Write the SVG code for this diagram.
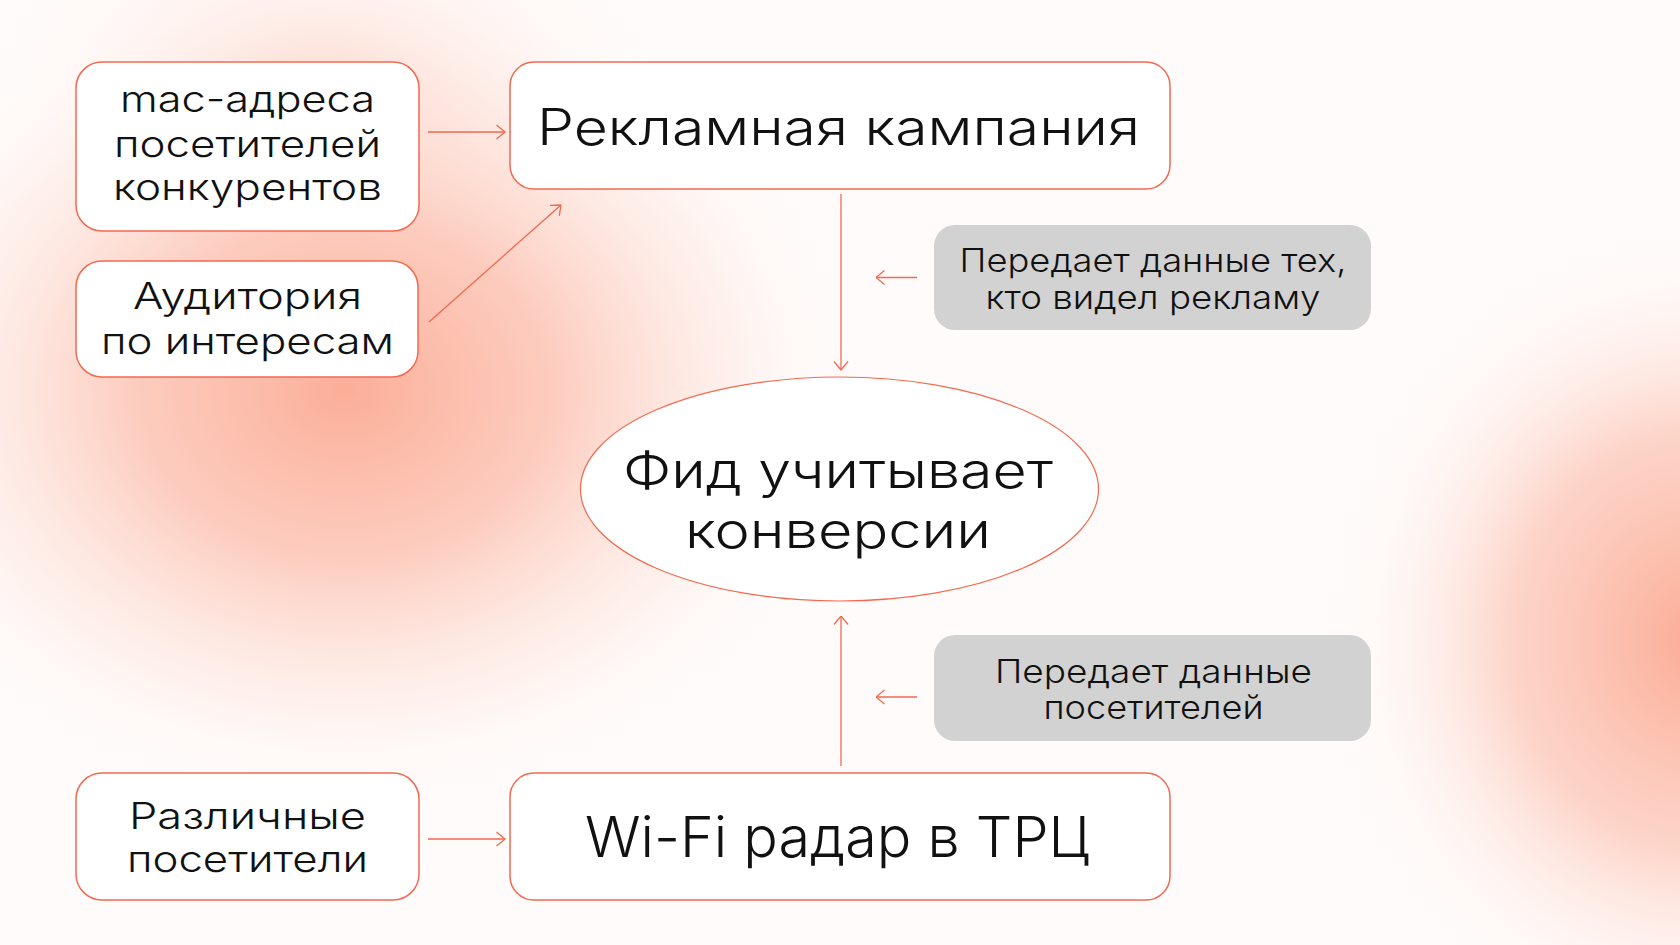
<svg xmlns="http://www.w3.org/2000/svg" width="1680" height="945" viewBox="0 0 1680 945">
<defs>
<radialGradient id="gL" cx="0.5" cy="0.5" r="0.5">
<stop offset="0" stop-color="#fbae98" stop-opacity="1"/>
<stop offset="0.4" stop-color="#fcc0af" stop-opacity="0.8"/>
<stop offset="0.75" stop-color="#fde1d8" stop-opacity="0.4"/>
<stop offset="1" stop-color="#ffffff" stop-opacity="0"/>
</radialGradient>
<radialGradient id="gR" cx="0.5" cy="0.5" r="0.5">
<stop offset="0" stop-color="#fbab94" stop-opacity="1"/>
<stop offset="0.5" stop-color="#fcc4b4" stop-opacity="0.7"/>
<stop offset="1" stop-color="#ffffff" stop-opacity="0"/>
</radialGradient>
<radialGradient id="gT" cx="0.5" cy="0.5" r="0.5">
<stop offset="0" stop-color="#fcd3c6" stop-opacity="0.85"/>
<stop offset="1" stop-color="#ffffff" stop-opacity="0"/>
</radialGradient>
<marker id="ah" viewBox="0 0 10 16" refX="9.5" refY="8" markerWidth="10" markerHeight="16" markerUnits="userSpaceOnUse" orient="auto">
<path d="M1,1 L9.5,8 L1,15" fill="none" stroke="#f2694f" stroke-width="1.3"/>
</marker>
<style>
.box{fill:#ffffff;stroke:#f36a50;stroke-width:1.5}
.grey{fill:#d2d2d2}
.t{font-family:Inter,"Noto Sans","DejaVu Sans",sans-serif;fill:#111111;text-anchor:middle;font-weight:300}
.s{font-size:37px}
.g{font-size:33px}
.c{fill:none;stroke:#f2694f;stroke-width:1.3;marker-end:url(#ah)}
</style>
</defs>
<rect width="1680" height="945" fill="#fffbfa"/>
<ellipse cx="320" cy="90" rx="360" ry="230" fill="url(#gT)"/>
<ellipse cx="345" cy="390" rx="520" ry="420" fill="url(#gL)"/>
<ellipse cx="1700" cy="640" rx="380" ry="420" fill="url(#gR)"/>

<g id="connectors">
<path class="c" d="M428,132 H505"/>
<path class="c" d="M429,322 L561,205"/>
<path class="c" d="M841,194 V370"/>
<path class="c" d="M841,766 V616"/>
<path class="c" d="M917,277.5 H876"/>
<path class="c" d="M917,697 H876"/>
<path class="c" d="M428,839 H505"/>
</g>

<g id="mac">
<rect class="box" x="76" y="62" width="343" height="169" rx="26"/>
<text class="t s" x="247.5" y="111.7" textLength="255" lengthAdjust="spacingAndGlyphs">mac-адреса</text>
<text class="t s" x="247.5" y="156.7" textLength="267" lengthAdjust="spacingAndGlyphs">посетителей</text>
<text class="t s" x="247.5" y="200" textLength="269" lengthAdjust="spacingAndGlyphs">конкурентов</text>
</g>

<g id="audience">
<rect class="box" x="76" y="261" width="342" height="116" rx="26"/>
<text class="t s" x="247.5" y="309.3" textLength="229" lengthAdjust="spacingAndGlyphs">Аудитория</text>
<text class="t s" x="247.5" y="354" textLength="293" lengthAdjust="spacingAndGlyphs">по интересам</text>
</g>

<g id="visitors">
<rect class="box" x="76" y="773" width="343" height="127" rx="26"/>
<text class="t s" x="247.5" y="829.3" textLength="237" lengthAdjust="spacingAndGlyphs">Различные</text>
<text class="t s" x="247.5" y="871.7" textLength="241" lengthAdjust="spacingAndGlyphs">посетители</text>
</g>

<g id="campaign">
<rect class="box" x="510" y="62" width="660" height="127" rx="24"/>
<text class="t" x="838.5" y="145" font-size="50" textLength="603" lengthAdjust="spacingAndGlyphs">Рекламная кампания</text>
</g>

<g id="radar">
<rect class="box" x="510" y="773" width="660" height="127" rx="24"/>
<text class="t" x="837" y="857.3" font-size="56" textLength="504" lengthAdjust="spacingAndGlyphs">Wi-Fi радар в ТРЦ</text>
</g>

<g id="feed">
<ellipse cx="839.5" cy="489" rx="259" ry="112" fill="#ffffff" stroke="#f36a50" stroke-width="1.2"/>
<text class="t" x="838" y="488" font-size="49" textLength="430" lengthAdjust="spacingAndGlyphs">Фид учитывает</text>
<text class="t" x="838" y="547.5" font-size="49" textLength="306" lengthAdjust="spacingAndGlyphs">конверсии</text>
</g>

<g id="note1">
<rect class="grey" x="934" y="225" width="437" height="105" rx="21"/>
<text class="t g" x="1153" y="272.2" textLength="387" lengthAdjust="spacingAndGlyphs">Передает данные тех,</text>
<text class="t g" x="1153" y="308.5" textLength="335" lengthAdjust="spacingAndGlyphs">кто видел рекламу</text>
</g>

<g id="note2">
<rect class="grey" x="934" y="635" width="437" height="106" rx="21"/>
<text class="t g" x="1153.5" y="682.7" textLength="317" lengthAdjust="spacingAndGlyphs">Передает данные</text>
<text class="t g" x="1153.5" y="719" textLength="220" lengthAdjust="spacingAndGlyphs">посетителей</text>
</g>
</svg>
